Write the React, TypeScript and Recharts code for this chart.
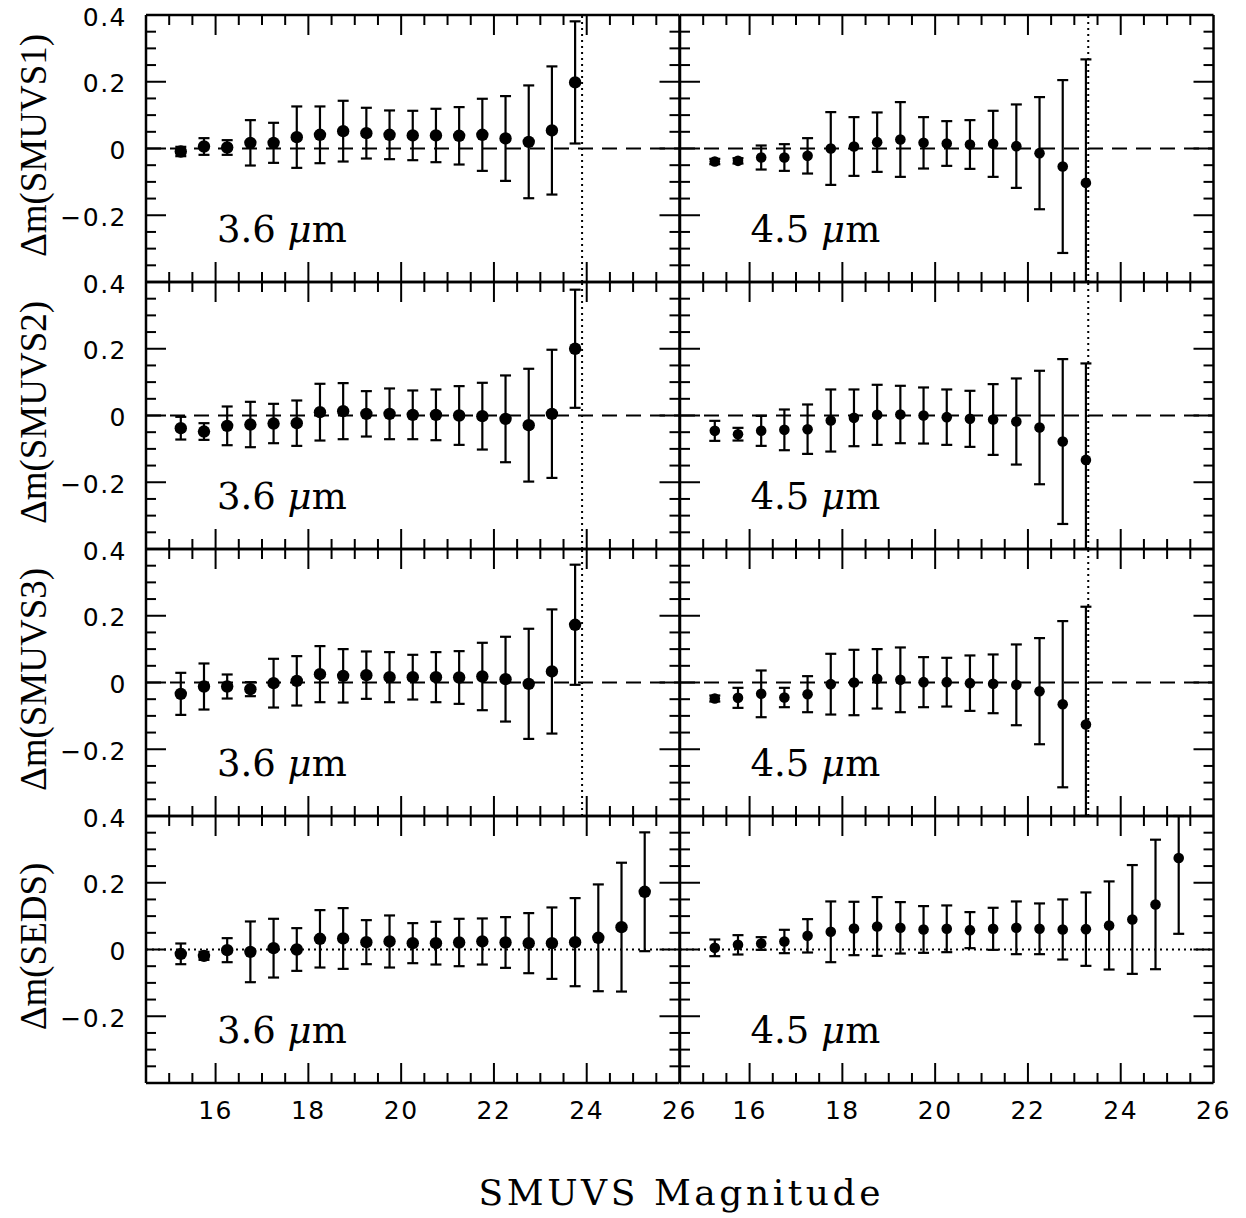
import React from 'react';
import { ScatterChart, Scatter, XAxis, YAxis, ErrorBar, ReferenceLine } from 'recharts';

// magnitude bins (bin centres)
const MAG_36 = [15.25, 15.75, 16.25, 16.75, 17.25, 17.75, 18.25, 18.75, 19.25, 19.75, 20.25, 20.75, 21.25, 21.75, 22.25, 22.75, 23.25, 23.75];
const MAG_45 = [15.25, 15.75, 16.25, 16.75, 17.25, 17.75, 18.25, 18.75, 19.25, 19.75, 20.25, 20.75, 21.25, 21.75, 22.25, 22.75, 23.25];
const MAG_SEDS = [15.25, 15.75, 16.25, 16.75, 17.25, 17.75, 18.25, 18.75, 19.25, 19.75, 20.25, 20.75, 21.25, 21.75, 22.25, 22.75, 23.25, 23.75, 24.25, 24.75, 25.25];

// delta m and 1-sigma errors per panel
const DM_S1_36 = [-0.009, 0.006, 0.003, 0.017, 0.017, 0.034, 0.041, 0.052, 0.046, 0.041, 0.039, 0.039, 0.038, 0.041, 0.030, 0.020, 0.054, 0.198];
const ERR_S1_36 = [0.014, 0.025, 0.022, 0.068, 0.06, 0.092, 0.085, 0.091, 0.076, 0.073, 0.074, 0.08, 0.086, 0.108, 0.127, 0.169, 0.192, 0.183];
const DM_S1_45 = [-0.039, -0.037, -0.027, -0.027, -0.022, 0.0, 0.006, 0.019, 0.027, 0.017, 0.015, 0.012, 0.014, 0.007, -0.014, -0.054, -0.103];
const ERR_S1_45 = [0.008, 0.008, 0.036, 0.04, 0.053, 0.109, 0.088, 0.089, 0.112, 0.077, 0.067, 0.073, 0.099, 0.125, 0.168, 0.259, 0.37];

const DM_S2_36 = [-0.038, -0.048, -0.031, -0.027, -0.024, -0.023, 0.01, 0.013, 0.005, 0.005, 0.002, 0.002, 0.0, -0.002, -0.01, -0.029, 0.005, 0.2];
const ERR_S2_36 = [0.034, 0.025, 0.058, 0.068, 0.059, 0.068, 0.085, 0.084, 0.068, 0.076, 0.073, 0.076, 0.088, 0.1, 0.13, 0.169, 0.192, 0.177];
const DM_S2_45 = [-0.046, -0.056, -0.046, -0.043, -0.041, -0.015, -0.007, 0.002, 0.003, 0.0, -0.005, -0.01, -0.012, -0.018, -0.036, -0.078, -0.133];
const ERR_S2_45 = [0.03, 0.019, 0.045, 0.061, 0.074, 0.093, 0.085, 0.09, 0.086, 0.084, 0.083, 0.084, 0.106, 0.129, 0.17, 0.247, 0.289];

const DM_S3_36 = [-0.034, -0.012, -0.012, -0.02, -0.002, 0.005, 0.025, 0.02, 0.022, 0.016, 0.016, 0.016, 0.015, 0.018, 0.01, -0.004, 0.033, 0.173];
const ERR_S3_36 = [0.063, 0.069, 0.036, 0.021, 0.073, 0.074, 0.084, 0.08, 0.071, 0.075, 0.067, 0.075, 0.079, 0.101, 0.127, 0.165, 0.186, 0.18];
const DM_S3_45 = [-0.048, -0.046, -0.034, -0.045, -0.035, -0.005, 0.0, 0.011, 0.008, 0.001, 0.001, -0.002, -0.004, -0.007, -0.026, -0.065, -0.126];
const ERR_S3_45 = [0.009, 0.03, 0.07, 0.029, 0.054, 0.091, 0.098, 0.089, 0.097, 0.075, 0.073, 0.083, 0.088, 0.121, 0.159, 0.249, 0.353];

const DM_SEDS_36 = [-0.013, -0.019, -0.002, -0.007, 0.004, 0.0, 0.032, 0.033, 0.022, 0.024, 0.019, 0.019, 0.021, 0.024, 0.021, 0.019, 0.019, 0.022, 0.035, 0.067, 0.173];
const ERR_SEDS_36 = [0.031, 0.012, 0.036, 0.091, 0.088, 0.064, 0.086, 0.091, 0.066, 0.078, 0.06, 0.064, 0.071, 0.069, 0.076, 0.09, 0.107, 0.132, 0.16, 0.193, 0.178];
const DM_SEDS_45 = [0.005, 0.014, 0.018, 0.024, 0.041, 0.053, 0.063, 0.069, 0.065, 0.06, 0.062, 0.058, 0.062, 0.065, 0.062, 0.06, 0.061, 0.072, 0.09, 0.135, 0.274];
const ERR_SEDS_45 = [0.025, 0.029, 0.019, 0.035, 0.05, 0.091, 0.08, 0.088, 0.077, 0.07, 0.07, 0.054, 0.063, 0.079, 0.076, 0.09, 0.11, 0.132, 0.163, 0.194, 0.227];

// completeness limits (dotted verticals)
const LIMIT_36 = 23.9;
const LIMIT_45 = 23.3;

// axes
const X_DOMAIN = [14.5, 26];
const X_TICKS = [15, 15.5, 16, 16.5, 17, 17.5, 18, 18.5, 19, 19.5, 20, 20.5, 21, 21.5, 22, 22.5, 23, 23.5, 24, 24.5, 25, 25.5, 26];
const X_LABELS = [16, 18, 20, 22, 24, 26];
const Y_DOMAIN = [-0.4, 0.4];
const Y_TICKS = [-0.4, -0.35, -0.3, -0.25, -0.2, -0.15, -0.1, -0.05, 0, 0.05, 0.1, 0.15, 0.2, 0.25, 0.3, 0.35, 0.4];
const Y_MAJOR = [-0.2, 0, 0.2];
const Y_LABELS = [0.4, 0.2, 0, -0.2];

const ROW_TITLES = ['\u0394m(SMUVS1)', '\u0394m(SMUVS2)', '\u0394m(SMUVS3)', '\u0394m(SEDS)'];
const COL_TITLES = ['3.6', '4.5'];
const X_TITLE = 'SMUVS Magnitude';

// layout
const PANEL_LEFT = [146, 679.5];
const PANEL_TOP = [15, 282, 549, 816];
const PANEL_W = 533.5;
const PANEL_H = 267;
const AXIS_W = 110; // left y axis box
const AXIS_H = 50; // bottom x axis box
const MIRROR = 6; // top / right mirrored axes
const EXTRA = 24; // spare room so edge labels are not cut

const TICK_FONT: React.CSSProperties = { fontFamily: '"DejaVu Sans", sans-serif', fontSize: 25, letterSpacing: 1.5, fill: '#000' };
const AXIS_LINE = { stroke: '#000', strokeWidth: 2.5 };

const fmt = (v: number) => (v < 0 ? '\u2212' + Math.abs(v) : String(v));

// error bars stop at the panel frame, like the original plot
const build = (mag: number[], dm: number[], err: number[]) =>
  mag.map((x, i) => ({
    x,
    y: dm[i],
    err: [Math.min(err[i], dm[i] - Y_DOMAIN[0]), Math.min(err[i], Y_DOMAIN[1] - dm[i])],
  }));

const xTickBottom = (labels: boolean) => (p: any) => {
  const v = p.payload.value;
  const major = X_LABELS.includes(v);
  return (
    <g>
      {v < 26 && <line x1={p.x} x2={p.x} y1={p.y} y2={p.y - (major ? 20 : 10)} stroke="#000" strokeWidth={2} />}
      {labels && major && <text x={p.x} y={p.y + 36} textAnchor="middle" style={TICK_FONT}>{v}</text>}
    </g>
  );
};

const xTickTop = (p: any) => {
  const v = p.payload.value;
  if (v >= 26) return <g />;
  const major = X_LABELS.includes(v);
  return <line x1={p.x} x2={p.x} y1={p.y} y2={p.y + (major ? 20 : 10)} stroke="#000" strokeWidth={2} />;
};

const yTickLeft = (labels: boolean) => (p: any) => {
  const v = p.payload.value;
  const edge = v === 0.4 || v === -0.4;
  const major = Y_MAJOR.includes(v);
  return (
    <g>
      {!edge && <line x1={p.x} x2={p.x + (major ? 20 : 10)} y1={p.y} y2={p.y} stroke="#000" strokeWidth={2} />}
      {labels && Y_LABELS.includes(v) && (
        <text x={p.x - 19} y={p.y + 10.5} textAnchor="end" style={TICK_FONT}>{fmt(v)}</text>
      )}
    </g>
  );
};

const yTickRight = (p: any) => {
  const v = p.payload.value;
  if (v === 0.4 || v === -0.4) return <g />;
  const major = Y_MAJOR.includes(v);
  return <line x1={p.x} x2={p.x - (major ? 20 : 10)} y1={p.y} y2={p.y} stroke="#000" strokeWidth={2} />;
};

interface PanelProps {
  row: number;
  col: number;
  data: { x: number; y: number; err: number[] }[];
  limit?: number;
  seds?: boolean;
}

const Panel: React.FC<PanelProps> = ({ row, col, data, limit, seds }) => {
  const r = col === 0 ? 6.2 : 5.3;
  return (
    <div style={{ position: 'absolute', left: PANEL_LEFT[col] - AXIS_W, top: PANEL_TOP[row] - MIRROR - EXTRA }}>
      <ScatterChart
        width={AXIS_W + PANEL_W + MIRROR + EXTRA}
        height={EXTRA + MIRROR + PANEL_H + AXIS_H}
        margin={{ top: EXTRA, right: EXTRA, bottom: 0, left: 0 }}
      >
        <XAxis xAxisId="b" dataKey="x" type="number" domain={X_DOMAIN} ticks={X_TICKS} interval={0}
          allowDataOverflow height={AXIS_H} tickSize={0} tickMargin={0} tickLine={false}
          axisLine={AXIS_LINE} tick={xTickBottom(row === 3)} />
        <XAxis xAxisId="t" orientation="top" dataKey="x" type="number" domain={X_DOMAIN} ticks={X_TICKS} interval={0}
          allowDataOverflow height={MIRROR} tickSize={0} tickMargin={0} tickLine={false}
          axisLine={AXIS_LINE} tick={xTickTop} />
        <YAxis yAxisId="l" dataKey="y" type="number" domain={Y_DOMAIN} ticks={Y_TICKS} interval={0}
          allowDataOverflow width={AXIS_W} tickSize={0} tickMargin={0} tickLine={false}
          axisLine={AXIS_LINE} tick={yTickLeft(col === 0)} />
        <YAxis yAxisId="r" orientation="right" dataKey="y" type="number" domain={Y_DOMAIN} ticks={Y_TICKS} interval={0}
          allowDataOverflow width={MIRROR} tickSize={0} tickMargin={0} tickLine={false}
          axisLine={AXIS_LINE} tick={yTickRight} />
        <ReferenceLine xAxisId="b" yAxisId="l" y={0} stroke="#000" strokeWidth={2}
          strokeDasharray={seds ? '2 4' : '15 9'} />
        {limit !== undefined && (
          <ReferenceLine xAxisId="b" yAxisId="l" x={limit} stroke="#000" strokeWidth={2} strokeDasharray="2 4" />
        )}
        <Scatter xAxisId="b" yAxisId="l" data={data} isAnimationActive={false}
          shape={(p: any) => <circle cx={p.cx} cy={p.cy} r={r} fill="#000" />}>
          <ErrorBar dataKey="err" direction="y" width={5.5} stroke="#000" strokeWidth={2.2} isAnimationActive={false} />
        </Scatter>
      </ScatterChart>
    </div>
  );
};

const PANELS: PanelProps[] = [
  { row: 0, col: 0, data: build(MAG_36, DM_S1_36, ERR_S1_36), limit: LIMIT_36 },
  { row: 0, col: 1, data: build(MAG_45, DM_S1_45, ERR_S1_45), limit: LIMIT_45 },
  { row: 1, col: 0, data: build(MAG_36, DM_S2_36, ERR_S2_36), limit: LIMIT_36 },
  { row: 1, col: 1, data: build(MAG_45, DM_S2_45, ERR_S2_45), limit: LIMIT_45 },
  { row: 2, col: 0, data: build(MAG_36, DM_S3_36, ERR_S3_36), limit: LIMIT_36 },
  { row: 2, col: 1, data: build(MAG_45, DM_S3_45, ERR_S3_45), limit: LIMIT_45 },
  { row: 3, col: 0, data: build(MAG_SEDS, DM_SEDS_36, ERR_SEDS_36), seds: true },
  { row: 3, col: 1, data: build(MAG_SEDS, DM_SEDS_45, ERR_SEDS_45), seds: true },
];

export default function App() {
  return (
    <div style={{ position: 'absolute', left: 0, top: 0, width: 1246, height: 1218, background: '#fff' }}>
      {PANELS.map((p) => (
        <Panel key={`${p.row}-${p.col}`} {...p} />
      ))}
      <svg width={1246} height={1218} style={{ position: 'absolute', left: 0, top: 0, pointerEvents: 'none' }}>
        {ROW_TITLES.map((t, i) => (
          <text key={t} transform={`translate(33, ${PANEL_TOP[i] + PANEL_H / 2 - 3}) rotate(-90)`}
            textAnchor="middle" dominantBaseline="central"
            style={{ fontFamily: '"Liberation Serif", serif', fontSize: 37, fill: '#000' }}>
            {t}
          </text>
        ))}
        {PANEL_TOP.map((top, i) =>
          COL_TITLES.map((c, j) => (
            <text key={`${i}-${j}`} x={PANEL_LEFT[j] + 71} y={top + 227}
              style={{ fontFamily: '"DejaVu Serif", serif', fontSize: 37, fill: '#000' }}>
              {c} <tspan fontStyle="italic">{'\u03bc'}</tspan>m
            </text>
          ))
        )}
        <text x={PANEL_LEFT[1]} y={1205} textAnchor="middle" textLength={402} lengthAdjust="spacing"
          style={{ fontFamily: '"DejaVu Serif", serif', fontSize: 36, fill: '#000' }}>
          {X_TITLE}
        </text>
      </svg>
    </div>
  );
}
